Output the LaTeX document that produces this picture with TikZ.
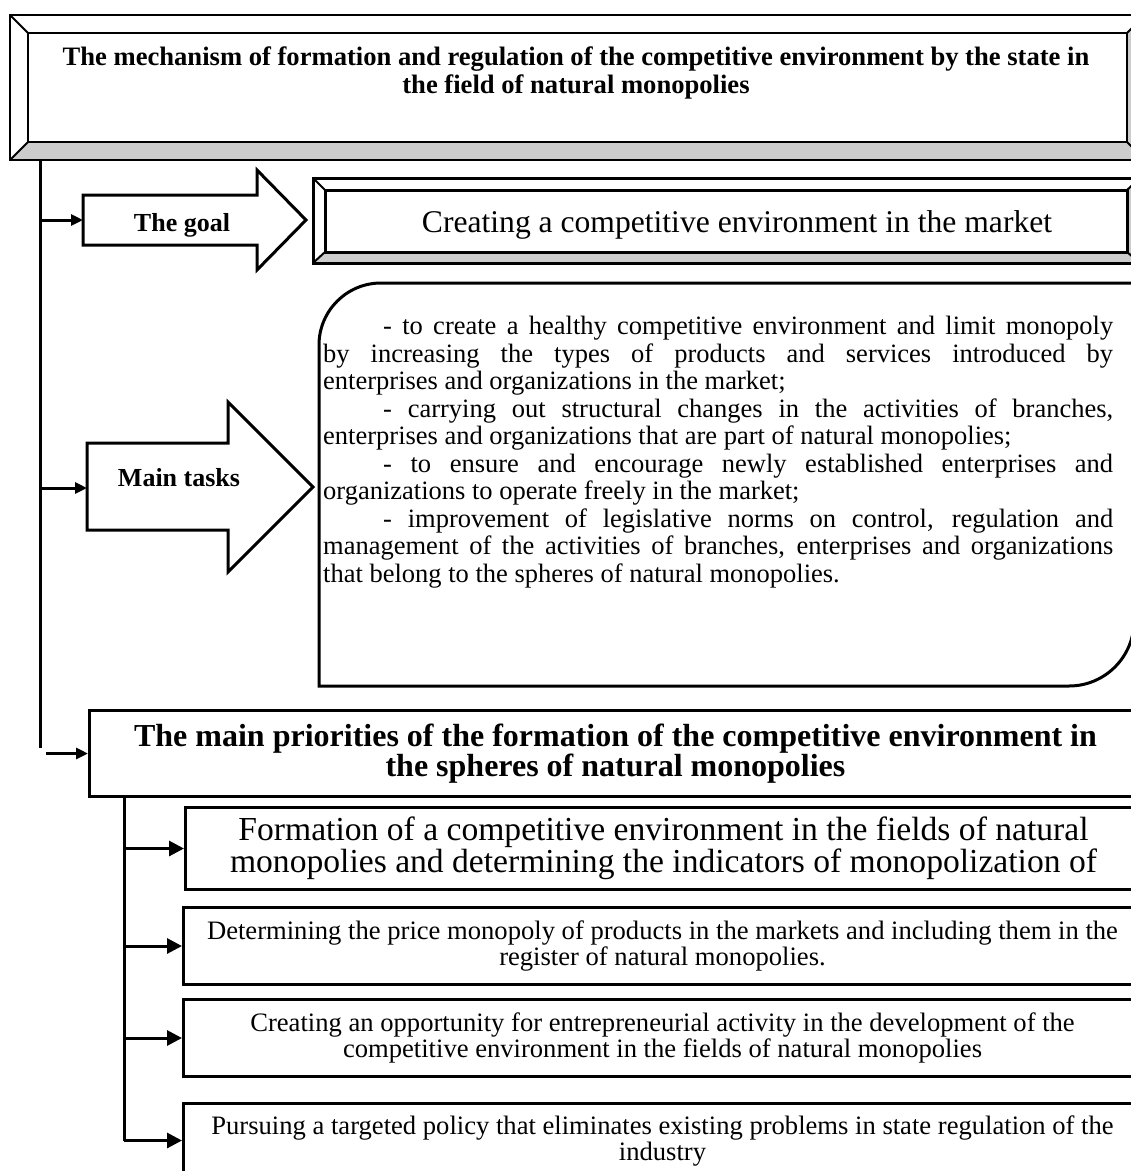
\documentclass[tikz,border=0pt]{standalone}
\usepackage{fontspec}
\setmainfont{Liberation Serif}
\usepackage{tikz}
\usetikzlibrary{arrows.meta, positioning, calc}
\definecolor{bevelGray}{RGB}{204,204,204}

\begin{document}
\begin{tikzpicture}[x=1pt, y=-1pt,
    outline/.style={draw=black, line width=3pt},
    thinline/.style={draw=black, line width=2pt},
    feed/.style={line width=3pt, -{Triangle[length=12pt,width=11pt]}},
    subfeed/.style={line width=3pt, -{Triangle[length=15pt,width=15pt]}},
    label/.style={font=\fontsize{26}{28}\selectfont\bfseries, anchor=base},
    subbox/.style={rectangle, draw=black, line width=3pt, anchor=north west,
        minimum width=958pt, inner sep=0pt, align=center,
        font=\fontsize{26.6}{26}\selectfont}
]
    \useasboundingbox (0,0) rectangle (1131,1171);
    \clip (0,0) rectangle (1131,1171);

    % Title frame
    \fill[bevelGray] (10,160) -- (28,142) -- (1127,142) -- (1145,160) -- cycle;
    \fill[bevelGray] (1127,33) -- (1145,15) -- (1145,160) -- (1127,142) -- cycle;
    \draw[thinline] (10,15) rectangle (1145,160);
    \draw[thinline] (28,33) rectangle (1127,142);
    \draw[thinline] (10,15) -- (28,33) (10,160) -- (28,142) (1145,15) -- (1127,33) (1145,160) -- (1127,142);
    \node[align=center, font=\fontsize{26.6}{28}\selectfont\bfseries] (title) at (576,73)
        {The mechanism of formation and regulation of the competitive environment by the state in\\
         the field of natural monopolies};

    % Trunk
    \coordinate (trunkTop) at (40,160);
    \coordinate (trunkBot) at (40,748);
    \draw[line width=3pt] (trunkTop) -- (trunkBot);

    % The goal
    \draw[outline, fill=white] (83,195) -- (257,195) -- (257,170) -- (306,220) -- (257,270) -- (257,245) -- (83,245) -- cycle;
    \coordinate (goalIn) at (83,220);
    \node[label] (goal) at (182,231.5) {The goal};
    \draw[feed] (trunkTop |- goalIn) -- (goalIn);

    \fill[bevelGray] (313,263) -- (325,252) -- (1127,252) -- (1140,263) -- cycle;
    \fill[bevelGray] (1127,190) -- (1140,178) -- (1140,263) -- (1127,252) -- cycle;
    \draw[outline] (313,178) rectangle (1140,263);
    \draw[outline] (325,190) rectangle (1127,252);
    \draw[thinline] (313,178) -- (325,190) (313,263) -- (325,252) (1140,178) -- (1127,190) (1140,263) -- (1127,252);
    \node[anchor=base, font=\fontsize{31.6}{34}\selectfont] (goalText) at (737,232)
        {Creating a competitive environment in the market};

    % Main tasks
    \draw[outline, fill=white] (87,443) -- (228,443) -- (228,402) -- (313,487) -- (228,572) -- (228,530) -- (87,530) -- cycle;
    \coordinate (tasksIn) at (87,488);
    \node[label] (mainTasks) at (179,486) {Main tasks};
    \draw[feed] (trunkTop |- tasksIn) -- (tasksIn);

    \draw[outline] (319,686) -- (319,345) arc[start angle=180, end angle=270, radius=62]
        -- (1134,283) -- (1134,621) arc[start angle=0, end angle=90, radius=65] -- cycle;
    \node[anchor=north west, inner sep=0pt, text width=790pt, align=justify,
          font=\fontsize{26.5}{27.5}\selectfont] (tasks) at (323,316)
        {\parindent=0pt
         \hspace*{60pt}- to create a healthy competitive environment and limit monopoly\linebreak
         by increasing the types of products and services introduced by\linebreak
         enterprises and organizations in the market;\par
         \hspace*{60pt}- carrying out structural changes in the activities of branches,\linebreak
         enterprises and organizations that are part of natural monopolies;\par
         \hspace*{60pt}- to ensure and encourage newly established enterprises and\linebreak
         organizations to operate freely in the market;\par
         \hspace*{60pt}- improvement of legislative norms on control, regulation and\linebreak
         management of the activities of branches, enterprises and organizations\linebreak
         that belong to the spheres of natural monopolies.\par};

    % Priorities
    \node[rectangle, draw=black, line width=3pt, anchor=north west, minimum width=1052pt,
          minimum height=86pt, align=center, font=\fontsize{32}{30}\selectfont\bfseries] (prio) at (88,709)
        {The main priorities of the formation of the competitive environment in\\
         the spheres of natural monopolies};
    \draw[feed] ([xshift=6pt]trunkBot |- prio.west) -- (prio.west);

    \node[subbox, minimum width=956pt, minimum height=82pt, font=\fontsize{33.6}{30}\selectfont] (sub1) at (184,806)
        {Formation of a competitive environment in the fields of natural\\
         monopolies and determining the indicators of monopolization of};
    \node[subbox, minimum height=77pt] (sub2) at (182,906)
        {Determining the price monopoly of products in the markets and including them in the\\
         register of natural monopolies.};
    \node[subbox, minimum height=77pt] (sub3) at (182,998)
        {Creating an opportunity for entrepreneurial activity in the development of the\\
         competitive environment in the fields of natural monopolies};
    \node[subbox, minimum height=74pt] (sub4) at (182,1102)
        {Pursuing a targeted policy that eliminates existing problems in state regulation of the\\
         industry};

    % Sub trunk
    \coordinate (subTop) at (124,795);
    \draw[line width=3pt] (subTop) -- (subTop |- sub4.west);
    \foreach \s in {sub1, sub2, sub3, sub4} {
        \draw[subfeed] (subTop |- \s.west) -- (\s.west);
    }

\end{tikzpicture}
\end{document}
